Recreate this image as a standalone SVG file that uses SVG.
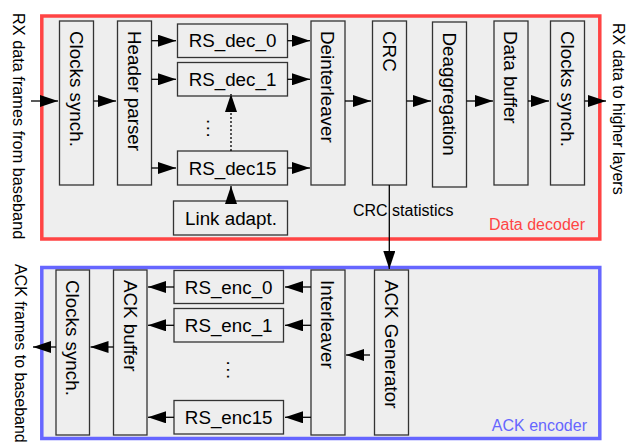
<svg xmlns="http://www.w3.org/2000/svg" width="628" height="445" viewBox="0 0 628 445">
<style>
.box{fill:#eeeeee;stroke:#333333;stroke-width:1.3}
.t{font-family:"Liberation Sans",Arial,sans-serif;font-size:18.8px;fill:#000}
.s{font-family:"Liberation Sans",Arial,sans-serif;font-size:16px;fill:#000}
.c{stroke:#000;stroke-width:1.3;fill:none}
.mid{text-anchor:middle}
</style>
<defs>
<marker id="ah" markerUnits="userSpaceOnUse" markerWidth="18" markerHeight="12" refX="18" refY="6" orient="auto" viewBox="0 0 18 12">
<path d="M0,0 L18,6 L0,12 z" fill="#000"/>
</marker>
</defs>
<rect width="628" height="445" fill="#fff"/>
<g id="data_decoder">
<rect x="41.8" y="16" width="558" height="223" fill="#eeeeee" stroke="#ff4444" stroke-width="3.5"/>
<text class="s" x="585" y="230" text-anchor="end" style="fill:#ff4444">Data decoder</text>
</g>
<g id="ack_encoder">
<rect x="41.8" y="267.5" width="558" height="171" fill="#eeeeee" stroke="#6666ff" stroke-width="3.5"/>
<text class="s" x="587" y="431" text-anchor="end" style="fill:#6666ff">ACK encoder</text>
</g>
<g id="lbl_rx_in"><text class="s" style="font-size:16.3px" transform="translate(13,13) rotate(90)">RX data frames from baseband</text></g>
<g id="lbl_rx_out"><text class="s" transform="translate(613,23) rotate(90)">RX data to higher layers</text></g>
<g id="lbl_ack_out"><text class="s" transform="translate(15,264) rotate(90)">ACK frames to baseband</text></g>

<g id="clk_rx"><rect class="box" x="59.5" y="21" width="34" height="164"/><text class="t" transform="translate(69.7,31) rotate(90)">Clocks synch.</text></g>
<g id="header_parser"><rect class="box" x="117.5" y="21" width="34" height="164"/><text class="t" transform="translate(127.7,31) rotate(90)">Header parser</text></g>
<g id="rs_dec_0"><rect class="box" x="177.5" y="24" width="110" height="33.5"/><text class="t mid" x="232.5" y="47">RS_dec_0</text></g>
<g id="rs_dec_1"><rect class="box" x="177.5" y="62.5" width="110" height="33.5"/><text class="t mid" x="232.5" y="85.5">RS_dec_1</text></g>
<g id="rs_dec15"><rect class="box" x="177.5" y="151" width="110" height="34"/><text class="t mid" x="232.5" y="174.5">RS_dec15</text></g>
<g id="link_adapt"><rect class="box" x="173.5" y="201" width="114" height="34"/><text class="t mid" x="231" y="224.5">Link adapt.</text></g>
<g id="dots_dec"><text class="t" style="letter-spacing:1.5px" transform="translate(207,119) rotate(90)">...</text></g>
<g id="deinterleaver"><rect class="box" x="311" y="21" width="34" height="164"/><text class="t" transform="translate(321.2,31) rotate(90)">Deinterleaver</text></g>
<g id="crc"><rect class="box" x="372.5" y="21" width="34" height="164"/><text class="t" transform="translate(382.7,31) rotate(90)">CRC</text></g>
<g id="deaggregation"><rect class="box" x="432.5" y="22" width="34" height="165"/><text class="t" transform="translate(442.7,32.5) rotate(90)">Deaggregation</text></g>
<g id="data_buffer"><rect class="box" x="494" y="21" width="34" height="164"/><text class="t" transform="translate(504.2,31) rotate(90)">Data buffer</text></g>
<g id="clk_out"><rect class="box" x="550.5" y="21" width="34" height="164"/><text class="t" transform="translate(560.7,31) rotate(90)">Clocks synch.</text></g>

<g id="clk_ack"><rect class="box" x="56" y="270" width="33.5" height="165"/><text class="t" transform="translate(66,280) rotate(90)">Clocks synch.</text></g>
<g id="ack_buffer"><rect class="box" x="113.5" y="270" width="33.5" height="165"/><text class="t" transform="translate(123.5,280) rotate(90)">ACK buffer</text></g>
<g id="rs_enc_0"><rect class="box" x="174" y="270.5" width="109.5" height="33"/><text class="t mid" x="228.7" y="293.5">RS_enc_0</text></g>
<g id="rs_enc_1"><rect class="box" x="174" y="308.5" width="109.5" height="33.5"/><text class="t mid" x="228.7" y="331.8">RS_enc_1</text></g>
<g id="rs_enc15"><rect class="box" x="174" y="400.5" width="109.5" height="33.5"/><text class="t mid" x="228.7" y="423.8">RS_enc15</text></g>
<g id="dots_enc"><text class="t" style="letter-spacing:1.5px" transform="translate(226.5,360.5) rotate(90)">...</text></g>
<g id="interleaver"><rect class="box" x="311" y="270" width="34" height="165"/><text class="t" transform="translate(321.2,280) rotate(90)">Interleaver</text></g>
<g id="ack_generator"><rect class="box" x="374.5" y="270" width="34" height="165"/><text class="t" transform="translate(384.7,280) rotate(90)">ACK Generator</text></g>

<g id="connectors">
<line class="c" x1="31" y1="101" x2="58" y2="101" marker-end="url(#ah)"/>
<line class="c" x1="93.5" y1="101" x2="116" y2="101" marker-end="url(#ah)"/>
<line class="c" x1="151.5" y1="40.7" x2="176" y2="40.7" marker-end="url(#ah)"/>
<line class="c" x1="151.5" y1="79.3" x2="176" y2="79.3" marker-end="url(#ah)"/>
<line class="c" x1="151.5" y1="168" x2="176" y2="168" marker-end="url(#ah)"/>
<line class="c" x1="287.5" y1="40.7" x2="310" y2="40.7" marker-end="url(#ah)"/>
<line class="c" x1="287.5" y1="79.3" x2="310" y2="79.3" marker-end="url(#ah)"/>
<line class="c" x1="287.5" y1="168" x2="310" y2="168" marker-end="url(#ah)"/>
<line class="c" x1="345" y1="101" x2="371" y2="101" marker-end="url(#ah)"/>
<line class="c" x1="406.5" y1="101" x2="431" y2="101" marker-end="url(#ah)"/>
<line class="c" x1="466.5" y1="101" x2="493" y2="101" marker-end="url(#ah)"/>
<line class="c" x1="528" y1="101" x2="549" y2="101" marker-end="url(#ah)"/>
<line class="c" x1="584.5" y1="101" x2="606" y2="101" marker-end="url(#ah)"/>
<line class="c" x1="231" y1="201" x2="231" y2="186" marker-end="url(#ah)"/>
<line class="c" x1="231" y1="151" x2="231" y2="94" stroke-dasharray="2,2" marker-end="url(#ah)"/>
<line class="c" x1="389.3" y1="185" x2="389.3" y2="269" marker-end="url(#ah)"/>
<text class="s" x="353" y="215.5">CRC statistics</text>
<line class="c" x1="370" y1="355" x2="346" y2="355" marker-end="url(#ah)"/>
<line class="c" x1="311" y1="287" x2="285" y2="287" marker-end="url(#ah)"/>
<line class="c" x1="311" y1="325.3" x2="285" y2="325.3" marker-end="url(#ah)"/>
<line class="c" x1="311" y1="417.3" x2="285" y2="417.3" marker-end="url(#ah)"/>
<line class="c" x1="174" y1="287" x2="148" y2="287" marker-end="url(#ah)"/>
<line class="c" x1="174" y1="325.3" x2="148" y2="325.3" marker-end="url(#ah)"/>
<line class="c" x1="174" y1="417.3" x2="148" y2="417.3" marker-end="url(#ah)"/>
<line class="c" x1="113.5" y1="347" x2="90.5" y2="347" marker-end="url(#ah)"/>
<line class="c" x1="56" y1="347" x2="33" y2="347" marker-end="url(#ah)"/>
</g>
</svg>
